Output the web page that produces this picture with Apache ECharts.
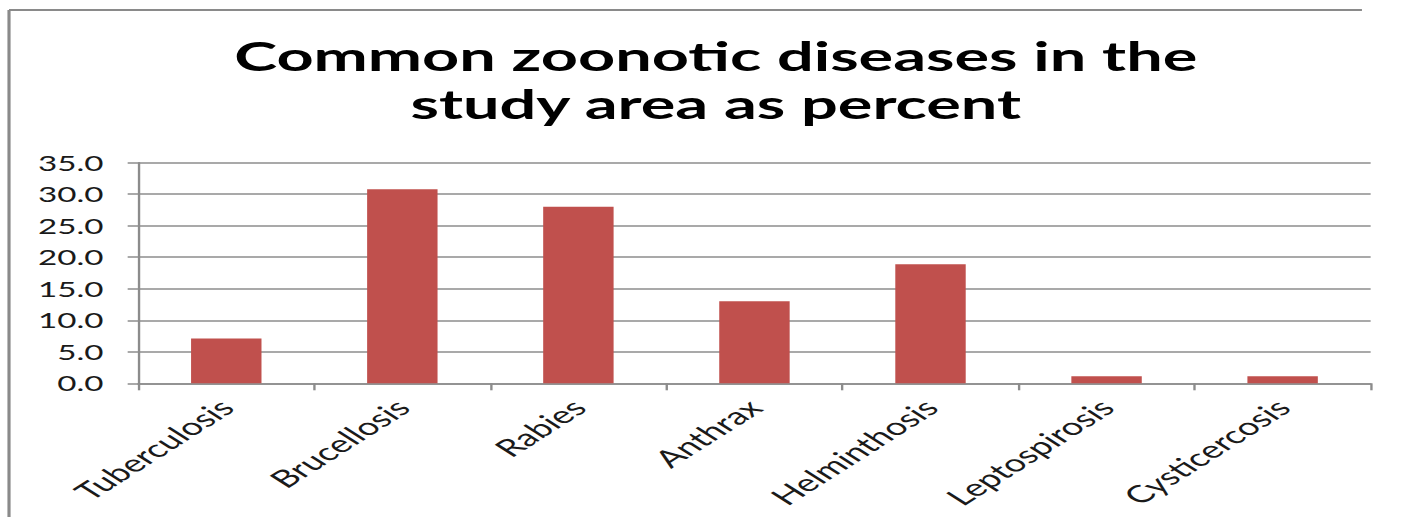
<!DOCTYPE html>
<html>
<head>
<meta charset="utf-8">
<script src="https://cdn.jsdelivr.net/npm/echarts@6/dist/echarts.min.js"></script>
<style>
  html, body { margin: 0; padding: 0; background: #fff; overflow: hidden; width: 1404px; height: 517px; }
  /* the chart is laid out narrow and widened horizontally, like the original wide slide graphic */
  #chart { width: 889px; height: 517px; transform: scaleX(1.58); transform-origin: 0 0; }
</style>
</head>
<body>
<div id="chart"></div>
<script>
// Share of common zoonotic diseases reported in the study area (%)
const categories = ['Tuberculosis', 'Brucellosis', 'Rabies', 'Anthrax', 'Helminthosis', 'Leptospirosis', 'Cysticercosis'];
const percentValues = [7.1, 30.8, 28.0, 13.0, 18.9, 1.1, 1.1];
const yMin = 0;
const yMax = 35;
const yStep = 5;
const titleLines = ['Common zoonotic diseases in the', 'study area as percent'];

const chart = echarts.init(document.getElementById('chart'), null, { renderer: 'svg' });

const gridColor = '#8c8c8c';
const textFont = 'Lato, "Open Sans", sans-serif';

chart.setOption({
  backgroundColor: '#ffffff',
  animation: false,
  title: {
    text: titleLines.join('\n'),
    left: 448,
    top: 26,
    textAlign: 'center',
    textStyle: {
      fontFamily: textFont,
      fontWeight: 'bold',
      fontSize: 41,
      lineHeight: 48,
      color: '#000000'
    }
  },
  graphic: [{
    // frame edge down the left side of the chart box
    type: 'line',
    shape: { x1: 5.7, y1: 530, x2: 5.7, y2: 10 },
    style: { stroke: '#8a8a8a', lineWidth: 2 },
    silent: true,
    z: 0
  }, {
    // frame edge along the top of the chart box
    type: 'line',
    shape: { x1: 5.7, y1: 10, x2: 862, y2: 10 },
    style: { stroke: '#8a8a8a', lineWidth: 2 },
    silent: true,
    z: 0
  }],
  grid: { left: 87.5, right: 21.5, top: 162.7, bottom: 133.7 },
  xAxis: {
    type: 'category',
    data: categories,
    axisLine: { show: true, lineStyle: { color: gridColor, width: 1.5 } },
    axisTick: { show: true, length: 7, lineStyle: { color: gridColor, width: 1.5 } },
    axisLabel: {
      rotate: 45,
      margin: 20,
      interval: 0,
      fontFamily: textFont,
      fontSize: 24,
      color: '#1a1a1a'
    },
    splitLine: { show: false }
  },
  yAxis: {
    type: 'value',
    min: yMin,
    max: yMax,
    interval: yStep,
    axisLine: { show: true, lineStyle: { color: gridColor, width: 1.5 } },
    axisTick: { show: true, length: 6.7, lineStyle: { color: gridColor, width: 1.5 } },
    axisLabel: {
      margin: 22,
      fontFamily: textFont,
      fontSize: 21,
      color: '#1a1a1a',
      formatter: v => v.toFixed(1)
    },
    splitLine: { show: true, lineStyle: { color: gridColor, width: 1.5 } }
  },
  series: [{
    type: 'bar',
    data: percentValues,
    barCategoryGap: '60%',
    itemStyle: { color: '#C0504D' }
  }]
});
</script>
</body>
</html>
